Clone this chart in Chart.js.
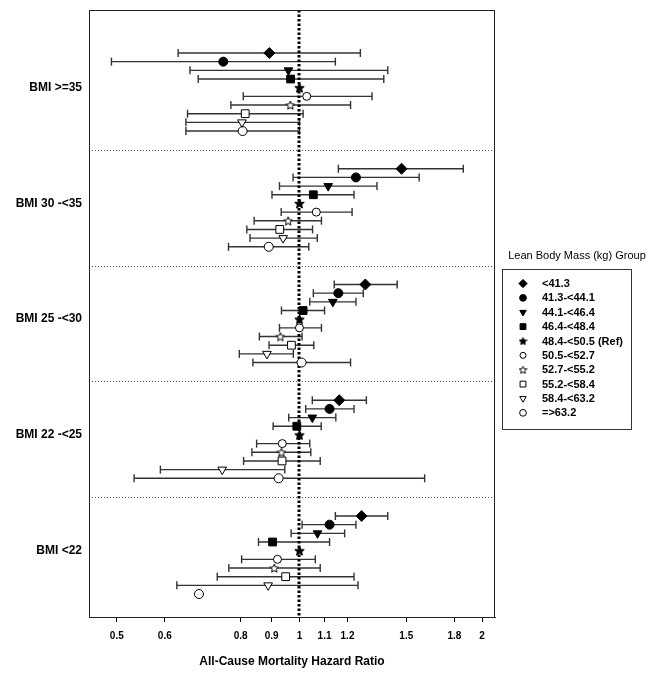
<!DOCTYPE html>
<html>
<head>
<meta charset="utf-8">
<script src="https://cdn.jsdelivr.net/npm/chart.js@4.4.1/dist/chart.umd.min.js"></script>
<style>
  body { margin: 0; background: #fff; }
  canvas { display: block; }
</style>
</head>
<body>
<canvas id="forestChart" width="657" height="679"></canvas>
<script>
// BMI groups (rows of the plot, top to bottom)
const BMI_GROUPS = ['BMI >=35', 'BMI 30 -<35', 'BMI 25 -<30', 'BMI 22 -<25', 'BMI <22'];
// Lean body mass groups (one marker each inside every BMI group)
const LBM_GROUPS = ['<41.3', '41.3-<44.1', '44.1-<46.4', '46.4-<48.4', '48.4-<50.5 (Ref)',
                    '50.5-<52.7', '52.7-<55.2', '55.2-<58.4', '58.4-<63.2', '=>63.2'];

// hazard ratios, one row per BMI group
const HR = [
    [0.892, 0.749, 0.959, 0.967, 1, 1.028, 0.966, 0.814, 0.804, 0.806],
    [1.473, 1.239, 1.115, 1.054, 1, 1.066, 0.958, 0.928, 0.940, 0.890],
    [1.284, 1.159, 1.135, 1.014, 1, 1.000, 0.930, 0.970, 0.884, 1.008],
    [1.163, 1.121, 1.050, 0.990, 1, 0.937, 0.934, 0.936, 0.746, 0.924],
    [1.266, 1.121, 1.071, 0.903, 1, 0.920, 0.909, 0.949, 0.888, 0.683]
];
// lower 95% CI
const CI_LOW = [
    [0.631, 0.490, 0.660, 0.681, null, 0.808, 0.771, 0.654, 0.650, 0.650],
    [1.159, 0.976, 0.927, 0.901, null, 0.933, 0.842, 0.819, 0.829, 0.764],
    [1.141, 1.054, 1.040, 0.934, null, 0.927, 0.859, 0.891, 0.796, 0.838],
    [1.050, 1.024, 0.960, 0.905, null, 0.850, 0.835, 0.809, 0.590, 0.534],
    [1.146, 1.010, 0.969, 0.856, null, 0.803, 0.765, 0.732, 0.628, null]
];
// upper 95% CI
const CI_HIGH = [
    [1.260, 1.146, 1.398, 1.377, null, 1.317, 1.214, 1.014, 1.000, 1.000],
    [1.862, 1.575, 1.342, 1.230, null, 1.221, 1.087, 1.051, 1.070, 1.036],
    [1.449, 1.274, 1.239, 1.100, null, 1.087, 1.010, 1.056, 0.977, 1.214],
    [1.289, 1.230, 1.148, 1.086, null, 1.040, 1.044, 1.082, 0.946, 1.608],
    [1.398, 1.239, 1.187, 1.121, null, 1.062, 1.082, 1.230, 1.249, null]
];

const X_TICKS = [0.5, 0.6, 0.8, 0.9, 1, 1.1, 1.2, 1.5, 1.8, 2];

const GROUP_STEP = 13.35;
const FONT = "'Liberation Sans', Arial, sans-serif";

function rowY(g, j) {
    return g * GROUP_STEP + j;
}

function makeStar(size, filled) {
    const c = document.createElement('canvas');
    c.width = size;
    c.height = size;
    const ctx = c.getContext('2d');
    const cx = size / 2, cy = size / 2 + 0.5;
    const outer = size / 2 - 0.5, inner = outer * 0.45;
    ctx.beginPath();
    for (let i = 0; i < 10; i++) {
        const r = i % 2 === 0 ? outer : inner;
        const a = -Math.PI / 2 + i * Math.PI / 5;
        ctx.lineTo(cx + r * Math.cos(a), cy + r * Math.sin(a));
    }
    ctx.closePath();
    ctx.fillStyle = filled ? '#000' : '#fff';
    ctx.fill();
    ctx.strokeStyle = '#000';
    ctx.lineWidth = 1;
    ctx.stroke();
    return c;
}

const starFilled = makeStar(11, true);
const starOpen = makeStar(10, false);
const starFilledSmall = makeStar(9, true);
const starOpenSmall = makeStar(9, false);

// marker look for each LBM group
const MARKERS = [
    { style: 'rectRot', radius: 5.5, rotation: 0, fill: '#000' },
    { style: 'circle', radius: 4.5, rotation: 0, fill: '#000' },
    { style: 'triangle', radius: 5, rotation: 180, fill: '#000' },
    { style: 'rect', radius: 5.5, rotation: 0, fill: '#000' },
    { style: starFilled, radius: 5, rotation: 0, fill: '#000', legend: starFilledSmall },
    { style: 'circle', radius: 4, rotation: 0, fill: '#fff' },
    { style: starOpen, radius: 5, rotation: 0, fill: '#fff', legend: starOpenSmall },
    { style: 'rect', radius: 5.5, rotation: 0, fill: '#fff' },
    { style: 'triangle', radius: 5, rotation: 180, fill: '#fff' },
    { style: 'circle', radius: 4.5, rotation: 0, fill: '#fff' }
];

const datasets = [];

// confidence interval lines, capped by vertical ticks
BMI_GROUPS.forEach((bmi, g) => {
    LBM_GROUPS.forEach((lbm, j) => {
        if (CI_LOW[g][j] == null || CI_HIGH[g][j] == null) return;
        datasets.push({
            type: 'line',
            label: 'ci',
            data: [{ x: CI_LOW[g][j], y: rowY(g, j) }, { x: CI_HIGH[g][j], y: rowY(g, j) }],
            borderColor: '#333',
            borderWidth: 1.4,
            pointStyle: 'line',
            pointRotation: 90,
            pointRadius: 4,
            pointBorderColor: '#333',
            pointBorderWidth: 1.4,
            order: 1
        });
    });
});

// point estimates
LBM_GROUPS.forEach((lbm, j) => {
    const m = MARKERS[j];
    datasets.push({
        type: 'scatter',
        label: lbm,
        data: BMI_GROUPS.map((bmi, g) => ({ x: HR[g][j], y: rowY(g, j) })),
        pointStyle: m.style,
        pointRadius: m.radius,
        pointRotation: m.rotation,
        backgroundColor: m.fill,
        borderColor: '#000',
        borderWidth: 1,
        showLine: false,
        order: 0
    });
});

let refDrawn = false;

const decorPlugin = {
    id: 'decor',
    beforeDatasetsDraw(chart) {
        const { ctx, chartArea, scales } = chart;
        refDrawn = false;
        ctx.save();
        ctx.strokeStyle = '#555';
        ctx.lineWidth = 1;
        ctx.setLineDash([1, 2]);
        for (let g = 0; g < BMI_GROUPS.length - 1; g++) {
            const y = Math.round(scales.y.getPixelForValue(g * GROUP_STEP + 9 + (GROUP_STEP - 9) / 2)) + 0.5;
            ctx.beginPath();
            ctx.moveTo(chartArea.left, y);
            ctx.lineTo(chartArea.right, y);
            ctx.stroke();
        }
        ctx.restore();
    },
    beforeDatasetDraw(chart, args) {
        if (refDrawn || args.meta.type !== 'scatter') return;
        refDrawn = true;
        const { ctx, chartArea, scales } = chart;
        const x = Math.round(scales.x.getPixelForValue(1));
        ctx.save();
        ctx.strokeStyle = '#000';
        ctx.lineWidth = 3;
        ctx.setLineDash([2.5, 2]);
        ctx.beginPath();
        ctx.moveTo(x, chartArea.top);
        ctx.lineTo(x, chartArea.bottom);
        ctx.stroke();
        ctx.restore();
    },
    afterDraw(chart) {
        const { ctx, chartArea } = chart;
        ctx.save();
        // plot frame
        ctx.strokeStyle = '#222';
        ctx.lineWidth = 1;
        ctx.strokeRect(Math.round(chartArea.left) + 0.5, Math.round(chartArea.top) + 0.5,
            Math.round(chartArea.right - chartArea.left) - 1, Math.round(chartArea.bottom - chartArea.top));

        // legend
        const boxLeft = 502.5, boxTop = 269.5, boxW = 129, boxH = 160;
        ctx.fillStyle = '#000';
        ctx.font = '11px ' + FONT;
        ctx.textAlign = 'center';
        ctx.textBaseline = 'middle';
        ctx.fillText('Lean Body Mass (kg) Group', 577, 256);
        ctx.strokeStyle = '#333';
        ctx.strokeRect(boxLeft, boxTop, boxW, boxH);

        ctx.textAlign = 'left';
        ctx.font = 'bold 11px ' + FONT;
        LBM_GROUPS.forEach((lbm, j) => {
            const y = 283.5 + j * 14.37;
            const m = MARKERS[j];
            ctx.fillStyle = m.fill;
            ctx.strokeStyle = '#000';
            Chart.helpers.drawPoint(ctx, {
                pointStyle: m.legend || m.style,
                rotation: m.rotation,
                radius: m.radius * 0.75,
                borderWidth: 1
            }, 523, y);
            ctx.fillStyle = '#000';
            ctx.fillText(lbm, 542, y + 0.5);
        });
        ctx.restore();
    }
};

new Chart(document.getElementById('forestChart'), {
    type: 'scatter',
    data: { datasets: datasets },
    options: {
        responsive: false,
        animation: false,
        events: [],
        layout: { padding: { top: 10, right: 162, left: 0, bottom: 0 } },
        plugins: {
            legend: { display: false },
            tooltip: { enabled: false }
        },
        scales: {
            x: {
                type: 'logarithmic',
                min: 0.45,
                max: 2.1,
                afterBuildTicks: (scale) => {
                    scale.ticks = X_TICKS.map(v => ({ value: v }));
                },
                afterFit: (scale) => {
                    scale.height = 62;
                },
                ticks: {
                    autoSkip: false,
                    maxRotation: 0,
                    padding: 8,
                    color: '#000',
                    font: { family: FONT, size: 10, weight: 'bold' },
                    callback: (v) => String(v)
                },
                grid: {
                    drawOnChartArea: false,
                    drawTicks: true,
                    tickLength: 5,
                    color: '#000'
                },
                border: { display: true, color: '#222' },
                title: {
                    display: true,
                    text: 'All-Cause Mortality Hazard Ratio',
                    color: '#000',
                    font: { family: FONT, size: 12, weight: 'bold' },
                    padding: { top: 0, bottom: 10 }
                }
            },
            y: {
                type: 'linear',
                reverse: true,
                min: -4.96,
                max: 65.05,
                afterBuildTicks: (scale) => {
                    scale.ticks = BMI_GROUPS.map((b, g) => ({ value: rowY(g, 4) }));
                },
                afterFit: (scale) => {
                    scale.width = 89;
                    scale.paddingTop = 0;
                    scale.paddingBottom = 0;
                },
                ticks: {
                    padding: 7,
                    color: '#000',
                    font: { family: FONT, size: 12, weight: 'bold' },
                    callback: (v, i) => BMI_GROUPS[i]
                },
                grid: { display: false, drawTicks: false },
                border: { display: false }
            }
        }
    },
    plugins: [decorPlugin]
});
</script>
</body>
</html>
